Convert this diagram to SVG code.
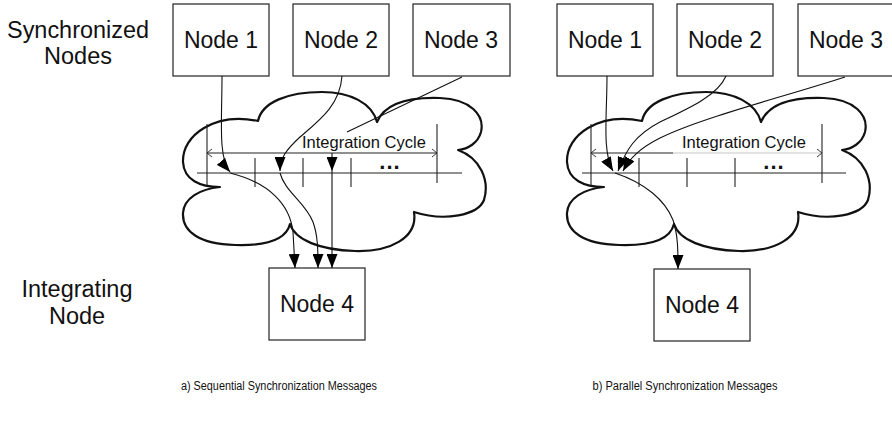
<svg xmlns="http://www.w3.org/2000/svg" width="892" height="425" viewBox="0 0 892 425">
  <style>
    .box { fill: #fff; stroke: #333; stroke-width: 1.3; }
    .lbl { font-family: "Liberation Sans", Arial, Helvetica, sans-serif; fill: #111; }
    .node { font-size: 23px; text-anchor: middle; }
    .side { font-size: 23.5px; text-anchor: middle; }
    .cap { font-size: 12.5px; text-anchor: middle; }
    .cyc { font-size: 16.5px; }
    .dots { font-size: 22px; font-weight: bold; text-anchor: middle; letter-spacing: 1px; }
    .cloud { fill: none; stroke: #111; stroke-width: 2.2; stroke-linejoin: round; }
    .tl { stroke: #222; stroke-width: 1.1; fill: none; }
    .msg { stroke: #111; stroke-width: 1.1; fill: none; }
    .chev { stroke: #222; stroke-width: 0.9; fill: none; }
  </style>
  <defs>
    <marker id="ah" viewBox="0 0 14 11" refX="14" refY="5.5" markerWidth="14" markerHeight="11" markerUnits="userSpaceOnUse" orient="auto">
      <path d="M0,0 L14,5.5 L0,11 z" fill="#000"/>
    </marker>
    <!-- cloud outline standing for the network -->
    <path id="cloudShape" d="M220,187 C200,187 184,180 183,162 C182,135 215,112 258,121 C262,102 288,92 322,92 C350,92 372,103 377,122 C385,103 410,97 440,98 C470,99 485,115 481,132 C478,143 468,149 458,150 C480,158 490,180 484,200 C478,215 445,222 414,212 C418,238 390,252 355,251 C320,250 295,240 290,224 C286,240 265,246 235,245 C200,244 182,232 183,213 C184,198 200,189 220,187 Z"/>
  </defs>

  <rect width="892" height="425" fill="#fff"/>

  <!-- side labels -->
  <text class="lbl side" x="78" y="38" textLength="142" lengthAdjust="spacingAndGlyphs">Synchronized</text>
  <text class="lbl side" x="78" y="64">Nodes</text>
  <text class="lbl side" x="77" y="297" textLength="111" lengthAdjust="spacingAndGlyphs">Integrating</text>
  <text class="lbl side" x="77" y="324">Node</text>

  <!-- clouds -->
  <g id="clouds">
    <use href="#cloudShape" class="cloud"/>
    <use href="#cloudShape" class="cloud" transform="translate(384,0)"/>
  </g>

  <!-- timeline a -->
  <g id="timeline-a">
    <line class="tl" x1="197" y1="173" x2="462" y2="173"/>
    <line class="tl" x1="207" y1="124" x2="207" y2="185"/>
    <line class="tl" x1="437" y1="124" x2="437" y2="183"/>
    <line class="tl" x1="255" y1="158" x2="255" y2="187"/>
    <line class="tl" x1="303" y1="158" x2="303" y2="187"/>
    <line class="tl" x1="351" y1="158" x2="351" y2="187"/>
    <line class="tl" x1="207" y1="153" x2="437" y2="153"/>
    <path class="chev" d="M212,149 L207,153 L212,157 M432,149 L437,153 L432,157"/>
    <text class="lbl cyc" x="302" y="148">Integration Cycle</text>
    <text class="lbl dots" x="390" y="169">...</text>
  </g>

  <!-- timeline b -->
  <g id="timeline-b">
    <line class="tl" x1="582" y1="173" x2="846" y2="173"/>
    <line class="tl" x1="591" y1="124" x2="591" y2="185"/>
    <line class="tl" x1="822" y1="124" x2="822" y2="183"/>
    <line class="tl" x1="639" y1="158" x2="639" y2="187"/>
    <line class="tl" x1="687" y1="158" x2="687" y2="187"/>
    <line class="tl" x1="735" y1="158" x2="735" y2="187"/>
    <line class="tl" x1="591" y1="153" x2="673" y2="153"/>
    <line x1="673" y1="153" x2="822" y2="153" stroke="#c8c8c8" stroke-width="1.1"/>
    <path class="chev" d="M596,149 L591,153 L596,157 M817,149 L822,153 L817,157"/>
    <text class="lbl cyc" x="682" y="148">Integration Cycle</text>
    <text class="lbl dots" x="774" y="169">...</text>
  </g>

  <!-- nodes -->
  <g id="a-node1"><rect class="box" x="173" y="4" width="96" height="72"/><text class="lbl node" x="221" y="48">Node 1</text></g>
  <g id="a-node2"><rect class="box" x="293" y="4" width="96" height="72"/><text class="lbl node" x="341" y="48">Node 2</text></g>
  <g id="a-node3"><rect class="box" x="413" y="4" width="97" height="72"/><text class="lbl node" x="461" y="48">Node 3</text></g>
  <g id="a-node4"><rect class="box" x="269" y="268" width="96" height="72"/><text class="lbl node" x="317" y="312">Node 4</text></g>

  <g id="b-node1"><rect class="box" x="557" y="4" width="96" height="72"/><text class="lbl node" x="605" y="48">Node 1</text></g>
  <g id="b-node2"><rect class="box" x="677" y="4" width="96" height="72"/><text class="lbl node" x="725" y="48">Node 2</text></g>
  <g id="b-node3"><rect class="box" x="798" y="4" width="96" height="72"/><text class="lbl node" x="846" y="48">Node 3</text></g>
  <g id="b-node4"><rect class="box" x="654" y="269" width="96" height="72"/><text class="lbl node" x="702" y="313">Node 4</text></g>

  <!-- message connectors -->
  <g id="connectors">
    <!-- a) sequential -->
    <path class="msg" d="M222,76 C222,120 218,158 230,172" marker-end="url(#ah)"/>
    <path class="msg" d="M342,76 C340,105 320,120 300,137 C286,150 280,158 280,171" marker-end="url(#ah)"/>
    <path class="msg" d="M462,77 L347,132"/>
    <path class="msg" d="M332,153 L332,171" marker-end="url(#ah)"/>
    <path class="msg" d="M230,173 C270,183 290,205 293,232 L295,268" marker-end="url(#ah)"/>
    <path class="msg" d="M280,173 C285,192 305,202 313,222 C318,236 318,250 318,268" marker-end="url(#ah)"/>
    <path class="msg" d="M332,171 L332,268" marker-end="url(#ah)"/>
    <!-- b) parallel -->
    <path class="msg" d="M607,76 C607,115 602,152 613,171" marker-end="url(#ah)"/>
    <path class="msg" d="M726,76 C718,95 690,108 660,122 C635,135 626,150 618,171" marker-end="url(#ah)"/>
    <path class="msg" d="M845,77 C780,98 700,118 660,138 C640,148 630,158 623,171" marker-end="url(#ah)"/>
    <path class="msg" d="M615,173 C645,183 665,200 673,220 C678,235 678,250 678,269" marker-end="url(#ah)"/>
  </g>

  <!-- captions -->
  <text class="lbl cap" x="279" y="390" textLength="196" lengthAdjust="spacingAndGlyphs">a) Sequential Synchronization Messages</text>
  <text class="lbl cap" x="685" y="390" textLength="185" lengthAdjust="spacingAndGlyphs">b) Parallel Synchronization Messages</text>
</svg>
